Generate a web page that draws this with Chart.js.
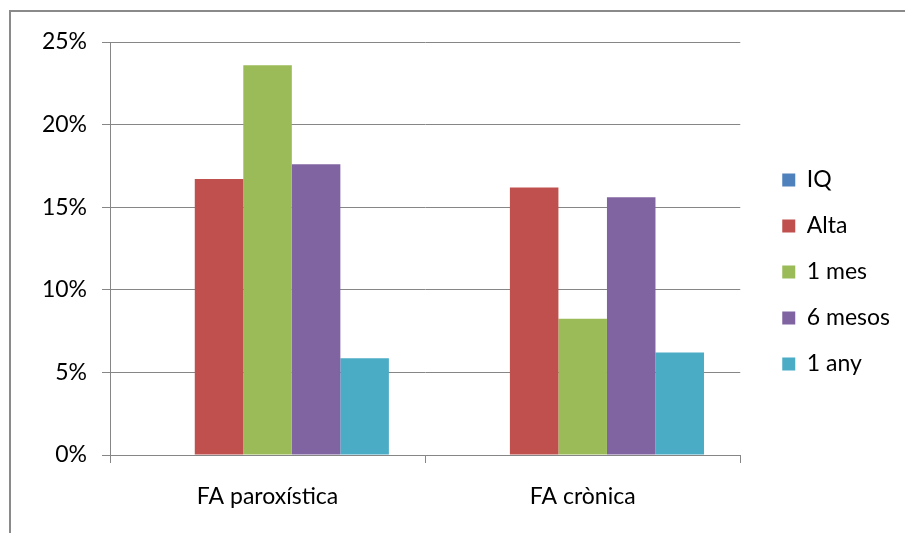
<!DOCTYPE html>
<html>
<head>
<meta charset="utf-8">
<script src="https://cdn.jsdelivr.net/npm/chart.js@4"></script>
<style>
  html, body { margin: 0; padding: 0; background: #fff; }
  #wrap { position: relative; width: 905px; height: 533px; overflow: hidden; }
  #frame { position: absolute; left: 9px; top: 10px; width: 1000px; height: 1000px; border: 2px solid #8a8a8a; box-sizing: border-box; pointer-events: none; }
  canvas { position: absolute; left: 0; top: 0; }
</style>
</head>
<body>
<div id="wrap">
  <canvas id="c" width="905" height="533"></canvas>
  <div id="frame"></div>
</div>
<script>
const categories = ['FA paroxística', 'FA crònica'];
const seriesNames = ['IQ', 'Alta', '1 mes', '6 mesos', '1 any'];
const iq = [0, 0];
const alta = [16.7, 16.2];
const unMes = [23.6, 8.25];
const sisMesos = [17.6, 15.6];
const unAny = [5.85, 6.2];
const yTicks = [0, 5, 10, 15, 20, 25];
const colors = ['#4F81BD', '#C0504D', '#9BBB59', '#8064A2', '#4BACC6'];

const seriesValues = [iq, alta, unMes, sisMesos, unAny];
const FONT = 'Lato, "Open Sans", sans-serif';
const FS = 23;

new Chart(document.getElementById('c'), {
  type: 'bar',
  data: {
    labels: categories,
    datasets: seriesNames.map((n, i) => ({
      label: n,
      data: seriesValues[i],
      xAxisID: 'x',
      yAxisID: 'y',
      backgroundColor: colors[i],
      borderWidth: 0,
      categoryPercentage: 0.77,
      barPercentage: 1.0
    }))
  },
  options: {
    responsive: false,
    animation: false,
    layout: { padding: { top: 11, right: 5, bottom: 0, left: 0 } },
    plugins: {
      tooltip: { enabled: false },
      legend: {
        position: 'right',
        labels: {
          boxWidth: 13,
          boxHeight: 13,
          padding: 23,
          color: '#000',
          font: { family: FONT, size: FS }
        }
      }
    },
    scales: {
      x: {
        position: 'bottom',
        offset: true,
        grid: { offset: true, drawOnChartArea: false, drawTicks: true, tickLength: 8, color: '#868686', lineWidth: 1 },
        border: { display: true, color: '#868686', width: 1 },
        ticks: { color: '#000', padding: 20, font: { family: FONT, size: FS } },
        afterFit: (s) => { s.height = 78; }
      },
      xTop: {
        type: 'category',
        position: 'top',
        display: true,
        grid: { display: false },
        border: { display: false },
        ticks: { display: false },
        afterFit: (s) => { s.height = 31; }
      },
      y: {
        position: 'left',
        min: 0,
        max: 25,
        afterBuildTicks: (s) => { s.ticks = yTicks.map(v => ({ value: v })); },
        grid: { color: '#868686', lineWidth: 1, tickLength: 8, drawTicks: true },
        border: { display: true, color: '#868686', width: 1 },
        ticks: { color: '#000', padding: 15, font: { family: FONT, size: FS }, callback: (v) => v + '%' },
        afterFit: (s) => { s.width = 110; }
      },
      yRight: {
        type: 'linear',
        position: 'right',
        display: true,
        grid: { display: false },
        border: { display: false },
        ticks: { display: false },
        afterFit: (s) => { s.width = 19; }
      }
    }
  }
});
</script>
</body>
</html>
